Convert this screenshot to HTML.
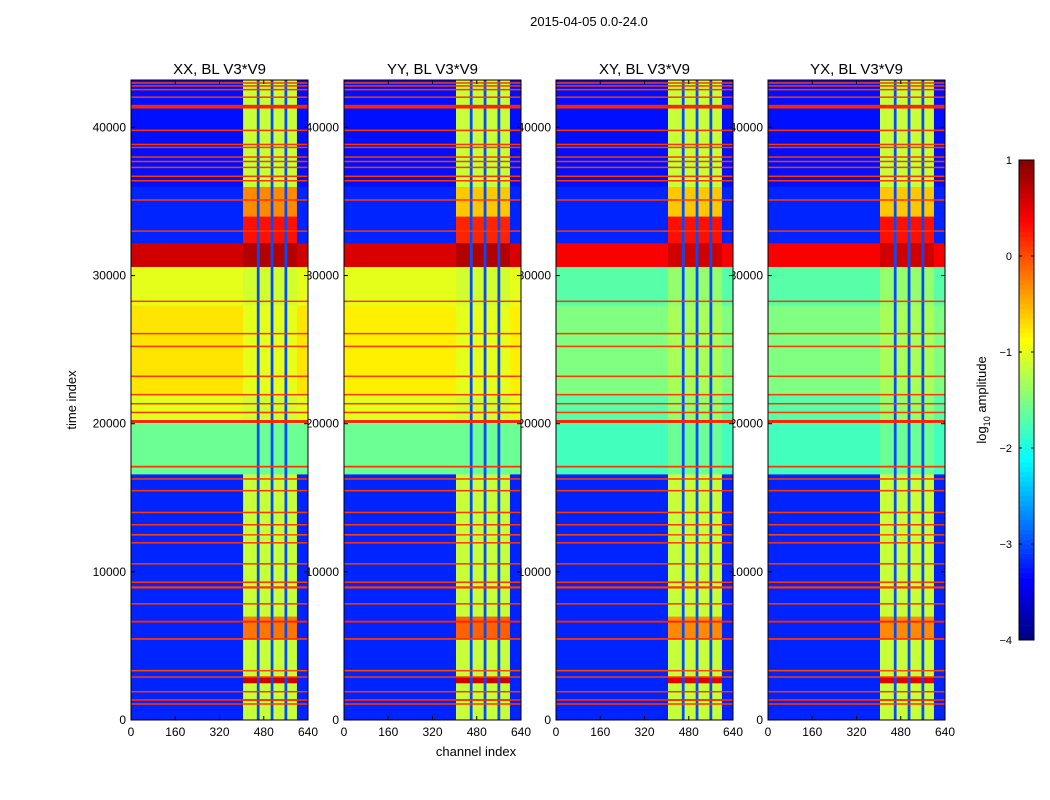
<!DOCTYPE html>
<html><head><meta charset="utf-8">
<style>
body{margin:0;background:#fff;}
svg{display:block;font-family:"Liberation Sans","DejaVu Sans",sans-serif;}
</style></head>
<body>
<svg id="chart" width="1050" height="800" viewBox="0 0 1050 800">
<rect width="1050" height="800" fill="#fff"/>
<text x="589" y="26" font-size="13" text-anchor="middle">2015-04-05 0.0-24.0</text>
<g id="labels"></g>
<g id="plots"></g>
<text x="476" y="756" font-size="13" text-anchor="middle">channel index</text>
<text x="0" y="0" font-size="13" text-anchor="middle" transform="translate(76,400) rotate(-90)">time index</text>
<g id="cbar"></g>
<text x="0" y="0" font-size="13" text-anchor="middle" transform="translate(986,400) rotate(-90)">log<tspan font-size="9" dy="4">10</tspan><tspan dy="-4"> amplitude</tspan></text>
</svg>
<script>
const panelTitles = ["XX, BL V3*V9","YY, BL V3*V9","XY, BL V3*V9","YX, BL V3*V9"];
const xTicks = [0,160,320,480,640];
const yTicks = [0,10000,20000,30000,40000];
const cbarTicks = [1,0,-1,-2,-3,-4];
const bandStarts = [0,2500,2900,5500,7000,16600,20000,22000,28000,30600,32200,34000,36000];
const bgXX = [-3.2,-3.2,-3.2,-3.2,-3.2,-1.6,-1.0,-0.75,-1.0,0.6,-3.2,-3.2,-3.3];
const stXX = [-1.15,0.6,-1.15,-0.2,-1.15,-1.6,-1.1,-1.0,-1.1,0.75,0.3,-0.3,-1.15];
const bgYY = [-3.2,-3.2,-3.2,-3.2,-3.2,-1.6,-1.0,-0.8,-1.0,0.55,-3.2,-3.2,-3.3];
const stYY = [-1.15,0.6,-1.15,-0.1,-1.15,-1.6,-1.1,-1.0,-1.1,0.75,0.2,-0.6,-1.15];
const bgXY = [-3.2,-3.2,-3.2,-3.2,-3.2,-1.8,-1.7,-1.5,-1.7,0.4,-3.2,-3.2,-3.3];
const stXY = [-1.15,0.5,-1.15,-0.3,-1.15,-1.6,-1.4,-1.3,-1.4,0.6,0.3,-0.6,-1.15];
const bgYX = [-3.2,-3.2,-3.2,-3.2,-3.2,-1.8,-1.7,-1.5,-1.7,0.4,-3.2,-3.2,-3.3];
const stYX = [-1.15,0.5,-1.15,-0.3,-1.15,-1.6,-1.4,-1.3,-1.4,0.6,0.3,-0.6,-1.15];
const segStart = [0,405,455,465,505,515,555,565,600];
const segKind  = ["bg","st","gap","st","gap","st","gap","st","bg"];
const gapValue = -3.0;
const lineTimes = [1080,1350,1910,2900,3330,5470,6640,7840,8950,9300,10540,11960,12500,13180,14010,15480,16270,17100,20150,20760,21350,21960,23200,25220,26080,28260,33000,35100,36400,36700,37300,37700,38000,38650,38850,39800,41400,42040,42550,42800,43000];
const lineWidths = [60,120,50,60,50,120,130,50,150,60,50,50,50,50,50,50,60,120,200,60,60,50,40,40,40,50,60,60,60,60,60,50,50,60,60,60,250,60,50,50,60];
const lineValues = [0.1,0.2,0.1,0.1,0.0,0.1,0.2,0.1,0.1,0.1,0.1,0.1,0.0,0.1,0.1,0.1,0.1,0.1,0.2,0.1,0.1,0.1,0.1,0.1,0.1,0.1,0.1,0.1,0.1,0.1,0.1,0.1,0.1,0.1,0.1,0.1,0.2,0.1,0.1,0.1,0.1];
const panelBg = [bgXX,bgYY,bgXY,bgYX];
const panelSt = [stXX,stYY,stXY,stYX];

const NS="http://www.w3.org/2000/svg";
const panelLeft=[131,344,556,768], PW=177, PT=80, PB=720;
const T_MAX=43200, C_MAX=640;
function jet(v){
  let t=(v+4)/5; t=Math.max(0,Math.min(1,t));
  const r=Math.max(0,Math.min(1,1.5-Math.abs(4*t-3)));
  const g=Math.max(0,Math.min(1,1.5-Math.abs(4*t-2)));
  const b=Math.max(0,Math.min(1,1.5-Math.abs(4*t-1)));
  return `rgb(${Math.round(r*255)},${Math.round(g*255)},${Math.round(b*255)})`;
}
function el(tag,attrs,parent){const e=document.createElementNS(NS,tag);for(const k in attrs)e.setAttribute(k,attrs[k]);parent.appendChild(e);return e;}
const labels=document.getElementById('labels'), plots=document.getElementById('plots');
function yPix(t){return PB-(t/T_MAX)*(PB-PT);}
for(let p=0;p<4;p++){
  const L=panelLeft[p];
  const xPix=c=>L+(c/C_MAX)*PW;
  const tt=el('text',{x:L+PW/2,y:74,'font-size':15,'text-anchor':'middle'},labels);
  tt.textContent=panelTitles[p];
  
  
  yTicks.forEach(v=>{const t=el('text',{x:L-5,y:yPix(v)+4,'font-size':12,'text-anchor':'end'},labels);t.textContent=v;
    
    });
  xTicks.forEach(v=>{const t=el('text',{x:xPix(v),y:736,'font-size':12,'text-anchor':'middle'},labels);t.textContent=v;
    
    });
  const g=el('g',{},plots);
  
  
  const bg=panelBg[p], st=panelSt[p];
  for(let b=0;b<bandStarts.length;b++){
    const t0=bandStarts[b], t1=b+1<bandStarts.length?bandStarts[b+1]:T_MAX;
    for(let s=0;s<segStart.length;s++){
      const c0=segStart[s], c1=s+1<segStart.length?segStart[s+1]:C_MAX;
      const v=segKind[s]==="bg"?bg[b]:segKind[s]==="st"?st[b]:gapValue;
      const r=el('rect',{x:xPix(c0),y:yPix(t1),width:xPix(c1)-xPix(c0)+0.3,height:yPix(t0)-yPix(t1)+0.3,fill:jet(v)},g);
      
      
    }
  }
  lineTimes.forEach((t,i)=>{
    const h=Math.max(1.5,(lineWidths[i]/T_MAX)*(PB-PT));
    const r=el('rect',{x:L,y:yPix(t)-h/2,width:PW,height:h,fill:jet(lineValues[i])},g);
    
    
  });
  const fr=el('rect',{x:L,y:PT,width:PW,height:PB-PT,fill:'none',stroke:'#000','stroke-width':1},g);
  
  
  xTicks.forEach(v=>{el('line',{x1:xPix(v),x2:xPix(v),y1:PB,y2:PB-4,stroke:'#000'},g);el('line',{x1:xPix(v),x2:xPix(v),y1:PT,y2:PT+4,stroke:'#000'},g);});
  yTicks.forEach(v=>{el('line',{x1:L,x2:L+4,y1:yPix(v),y2:yPix(v),stroke:'#000'},g);el('line',{x1:L+PW,x2:L+PW-4,y1:yPix(v),y2:yPix(v),stroke:'#000'},g);});
}
const cb=document.getElementById('cbar');
const CBX=1019,CBW=15,CBT=160,CBB=640;
const cy=v=>CBB-((v+4)/5)*(CBB-CBT);
for(let i=0;i<100;i++){
  const v0=-4+5*i/100, v1=-4+5*(i+1)/100;
  const r=el('rect',{x:CBX,y:cy(v1),width:CBW,height:cy(v0)-cy(v1)+0.3,fill:jet((v0+v1)/2)},cb);
  
  
}
const cf=el('rect',{x:CBX,y:CBT,width:CBW,height:CBB-CBT,fill:'none',stroke:'#000'},cb);


cbarTicks.forEach(v=>{
  el('line',{x1:CBX,x2:CBX+3,y1:cy(v),y2:cy(v),stroke:'#000'},cb);
  el('line',{x1:CBX+CBW,x2:CBX+CBW-3,y1:cy(v),y2:cy(v),stroke:'#000'},cb);
  const t=el('text',{x:1012,y:cy(v)+4,'font-size':11,'text-anchor':'end'},cb);
  t.textContent=v<0?'\u2212'+(-v):String(v);
  
  
});
</script>
</body></html>
